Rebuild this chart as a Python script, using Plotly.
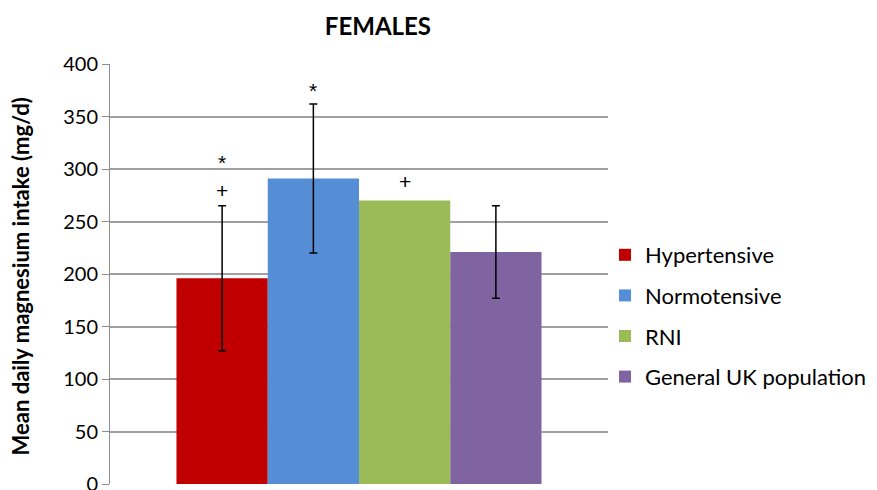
import plotly.graph_objects as go

# Mean daily magnesium intake, females
groups = ["Hypertensive", "Normotensive", "RNI", "General UK population"]
means = [196, 291, 270, 221]
sd = [69, 71, None, 44]
colors = ["#C00000", "#558ED5", "#9BBB59", "#8064A2"]

# Significance markers drawn above each bar: (group index, symbol, y value)
markers = [(0, "*", 311), (0, "+", 280), (1, "*", 380), (2, "+", 288)]

y_ticks = [0, 50, 100, 150, 200, 250, 300, 350, 400]

FONT = "Lato, 'Open Sans', sans-serif"
MARK_FONT = "'Liberation Sans', Arial, sans-serif"
BARGAP = 0.267

fig = go.Figure()
for i, (name, m, e, c) in enumerate(zip(groups, means, sd, colors)):
    err = dict(type="data", array=[e], visible=True, color="black",
               thickness=1.5, width=4) if e is not None else dict(visible=False)
    fig.add_trace(go.Bar(
        x=[0], y=[m], name=name, marker=dict(color=c, line=dict(width=0)),
        error_y=err, legendgroup=f"g{i}",
    ))

# centre of each bar within the group
n = len(groups)
group_w = 1 - BARGAP
bar_w = group_w / n
centers = [-group_w / 2 + bar_w * (k + 0.5) for k in range(n)]

annotations = []
for idx, sym, yv in markers:
    annotations.append(dict(
        x=centers[idx], y=yv, xref="x", yref="y", text=sym, showarrow=False,
        font=dict(family=MARK_FONT, size=21, color="#000000"),
        xanchor="center", yanchor="middle",
        yshift=-5 if sym == "*" else 0,
    ))

annotations.append(dict(
    x=-0.18, y=0.495, xref="paper", yref="paper",
    text="<b>Mean daily magnesium intake (mg/d)</b>", textangle=-90,
    showarrow=False, font=dict(family=FONT, size=22, color="black"),
    xanchor="center", yanchor="middle",
))

fig.update_layout(
    width=877, height=490,
    margin=dict(l=110, r=269, t=64, b=6, autoexpand=False),
    paper_bgcolor="white", plot_bgcolor="white",
    barmode="group", bargap=BARGAP, bargroupgap=0,
    title=dict(text="<b>FEMALES</b>", x=0.538, xref="paper", xanchor="center",
               y=1 - 27 / 490, yref="container", yanchor="middle",
               font=dict(family=FONT, size=24, color="black")),
    xaxis=dict(range=[-0.5, 0.5], showticklabels=False, showgrid=False,
               zeroline=False, showline=False, ticks="", automargin=False),
    yaxis=dict(range=[0, 400], tickvals=y_ticks, ticktext=[str(v) for v in y_ticks],
               showgrid=True, gridcolor="#A0A0A0", gridwidth=1.5,
               zeroline=False, showline=True, linecolor="#8C8C8C", linewidth=1,
               ticks="outside", ticklen=7, tickcolor="#8C8C8C",
               ticklabeloverflow="allow", automargin=False,
               tickfont=dict(family=FONT, size=20, color="black")),
    legend=dict(x=0.994, xanchor="left", y=0.4, yanchor="middle",
                traceorder="grouped", tracegroupgap=9,
                font=dict(family=FONT, size=22, color="black"),
                itemclick=False, bgcolor="rgba(0,0,0,0)"),
    annotations=annotations,
    showlegend=True,
)

fig.write_html("out.html")
